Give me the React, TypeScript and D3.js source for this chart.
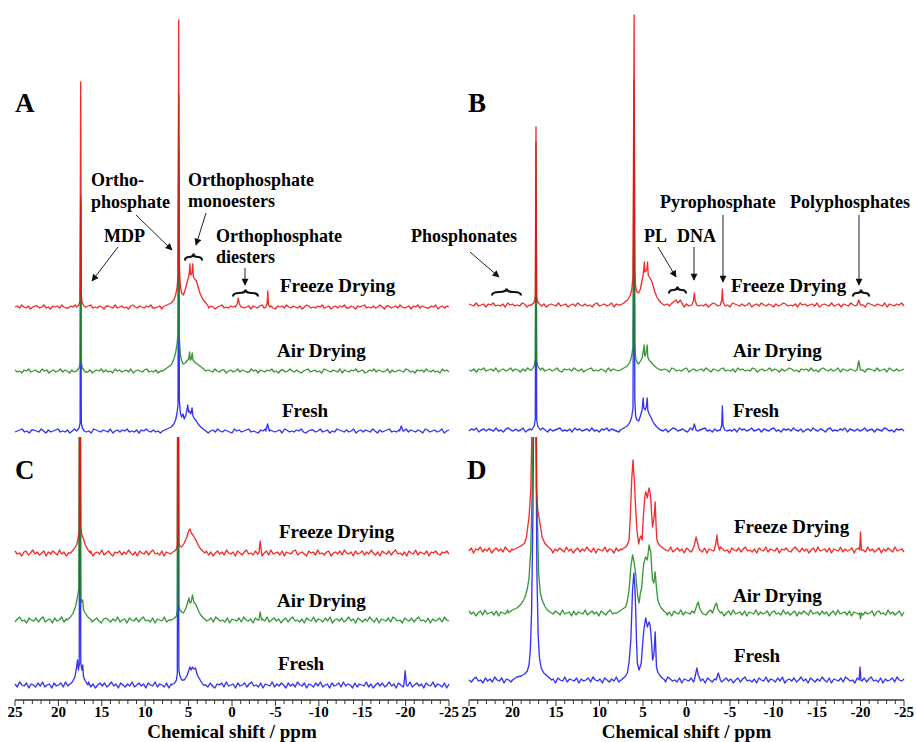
import React from "react";
import * as d3 from "d3";

type Pt = [number, number];

const W = 916;
const H = 742;

const SAMPLES = ["Freeze Drying", "Air Drying", "Fresh"];
const COLORS = ["#f01010", "#1c8a1c", "#1818f0"];
const MAJOR_TICKS = [25, 20, 15, 10, 5, 0, -5, -10, -15, -20, -25];
const PPM_RANGE = [25, -25];

// baseline noise, evenly sampled from 25 to -25 ppm
const noiseFreezeA = [0,1,-1,2,0,-1,1,-2,0,1,1,-1,0,2,-1,0,-2,1,0,1,-1,2,0,-1,-1,1,0,2,-2,0,1,-1,0,1,2,-1,0,-1,1,0,-2,1,1,0,-1,2,-1,0,1,-1,0,-2,1,2,0,-1,1,0,-1,1,0,2,-1,-1,0,1,-2,1,0,1,-1,0,2,0,-1,1,-1,0,-2,1,1,-1,0,2,-1,0,1,-1,1,0,-2,0,1,2,-1,0,-1,1,0,1,-1,2,0,-1,0,1,-2,1,0,-1,1,2,-1,0,0,1,-1,-2,1,0,1,-1,2,0,-1,1,0,-1,1,-2,0,2,1,-1,0,-1,1,0,2,-1,0,1,-2,0,1,-1,1,0,2,-1,-1,1,0,-2,1,0,1,2,-1,0,-1,1,-1,0,2,0,-2,1,1,-1,0,1,-1,2,0,-1,0,1,-2,1,0,2,-1,1,0,-1,-1,1,0,2,-2,0,1,-1,1,0];
const noiseAirA = [1,-1,0,-2,1,0,2,-1,0,1,-1,-1,2,0,1,-2,0,1,-1,0,2,-1,1,0,-2,1,-1,0,1,2,0,-1,-1,1,-2,0,1,0,2,-1,1,-1,0,-2,2,0,1,-1,0,1,-1,2,-2,0,1,0,-1,1,2,-1,0,-1,1,-2,0,2,1,-1,0,1,0,-1,2,-1,-2,1,0,1,-1,0,2,0,-1,1,-2,1,0,-1,2,0,-1,1,1,-2,0,1,-1,0,2,-1,1,0,-1,-1,2,0,1,-2,1,0,-1,1,0,2,-1,0,-2,1,1,-1,0,2,0,-1,1,-1,-2,0,1,2,-1,0,1,-1,0,-2,2,1,0,-1,1,0,-1,2,-2,1,0,-1,1,0,2,-1,0,1,-2,-1,1,0,2,-1,1,0,-1,0,2,-2,1,-1,0,1,0,-1,2,1,-1,0,-2,1,0,1,-1,2,0,-1,1,-1,0,-2,2,0,1,-1];
const noiseFreshA = [-1,0,1,2,-1,0,-2,1,1,0,-1,2,0,-2,1,-1,0,1,2,-1,0,-1,1,-2,0,2,1,-1,0,1,-1,0,-2,2,1,0,-1,1,0,-1,2,-2,0,1,-1,1,0,2,-1,0,-1,1,-2,1,0,2,0,-1,1,-1,0,-2,2,1,-1,0,1,0,-1,2,-1,0,-2,1,1,0,-1,2,-1,0,1,-2,0,1,-1,2,0,-1,1,0,-1,-2,2,0,1,-1,0,1,2,-1,0,-1,-2,1,0,2,-1,1,0,-1,0,1,-2,2,1,-1,0,-1,1,0,2,-1,-2,0,1,1,-1,0,2,-1,0,1,-2,0,-1,2,1,0,-1,1,-1,0,2,-2,0,1,-1,1,0,-1,2,0,-2,1,-1,0,1,2,-1,0,-1,1,-2,0,2,-1,1,0,-1,1,0,-2,2,1,-1,0,1,-1,0,2,-2,0,1];
const noiseFreezeB = [1,0,-1,2,-1,0,1,-2,1,0,2,-1,0,-1,1,-2,2,0,1,-1,0,-1,2,1,-2,0,1,-1,0,2,-1,1,-2,0,1,0,-1,2,-1,0,1,-2,0,1,-1,2,0,-1,1,-1,0,-2,1,2,-1,0,1,-1,0,2,-2,1,0,-1,1,0,2,-1,-1,0,1,-2,1,2,0,-1,0,1,-1,2,-2,0,1,-1,1,0,-1,2,0,-2,1,-1,0,1,2,-1,0,-1,1,-2,0,2,1,-1,0,1,-1,0,-2,2,1,0,-1,1,-1,0,2,-2,0,1,-1,2,0,-1,1,0,-2,1,-1,0,2,1,-1,0,-1,1,-2,2,0,1,-1,0,1,-1,2,-2,0,1,0,-1,2,-1,0,1,-2,1,0,-1,2,0,-1,1,-1,0,-2,2,1,0,-1,1,0,-1,2,-2,1,0,-1,1,0,2,-1];
const noiseAirB = [0,-1,1,-2,1,0,2,-1,0,1,-1,2,-2,0,1,-1,0,2,-1,1,0,-2,1,-1,2,0,-1,1,0,-2,2,-1,0,1,-1,0,2,-1,-2,1,0,1,-1,2,0,-1,1,-2,0,1,2,-1,0,-1,1,0,-2,2,-1,1,0,-1,2,0,-2,1,1,-1,0,2,-1,0,1,-2,0,1,-1,2,-1,0,1,0,-2,2,1,-1,0,-1,1,2,-2,0,1,-1,0,1,-1,2,0,-2,1,0,-1,1,2,-1,0,-1,1,-2,2,0,1,-1,0,-1,2,1,-2,0,1,-1,0,2,-1,1,0,-2,1,-1,0,2,1,-1,0,-2,1,0,1,-1,2,-1,0,-2,1,2,0,-1,1,-1,0,2,-2,1,0,-1,1,0,-1,2,-1,0,-2,1,1,0,-1,2,-1,0,1,-2,2,0,-1,1,-1,0,1];
const noiseFreshB = [-1,1,0,2,-2,0,1,-1,1,0,-1,2,-1,0,-2,1,2,0,-1,1,-1,0,2,-2,0,1,-1,1,0,-1,2,0,-2,1,-1,0,1,2,-1,0,-1,1,-2,2,0,1,-1,0,1,-1,2,-1,0,-2,1,0,2,-1,1,0,-1,-2,2,1,0,-1,1,0,-1,2,-2,0,1,-1,1,0,2,-1,0,-1,1,-2,0,2,1,-1,0,1,-1,-2,2,0,1,-1,0,1,2,-1,0,-2,1,-1,0,1,2,-1,0,-1,1,-2,2,0,1,-1,0,2,-1,0,1,-2,1,0,-1,1,2,-1,0,-2,1,0,1,-1,2,0,-1,1,-2,0,1,-1,2,0,-1,1,0,-2,1,2,-1,0,-1,1,0,2,-2,1,0,-1,1,-1,0,2,-1,0,1,-2,1,0,-1,2,1,-1,0,-2,1,0,1,-1];
const noiseFreezeC = [2,-1,0,-3,1,2,-2,0,3,-1,1,-2,0,2,-3,1,-1,2,0,-2,3,-1,1,-3,0,2,-1,1,-2,3,0,-2,1,-1,2,-3,0,1,-1,3,-2,0,2,-1,-3,1,0,2,-2,1,-1,3,0,-2,1,-3,2,0,-1,2,-2,1,3,-1,0,-2,2,-3,1,0,-1,3,-2,1,0,-1,2,-3,1,2,-2,0,-1,3,-1,0,2,-2,1,-3,0,2,-1,1,-2,3,0,-1,1,-3,2,0,-2,1,3,-1,0,-2,2,-1,1,-3,0,2,-2,3,-1,0,1,-2,2,-3,1,0,-1,2,3,-2,0,1,-1,-3,2,0,1,-2,3,-1,0,-2,1,2,-3,0,1,-1,2,-2,3,0,-1,1,-3,2,-1,0,2,-2,1,-1,3,0,-2,1,-3,2,0,-1,2,-2,1,3,-1,0,-2,1,-3,2,0,-1,3,-2,1,0,-1,2,-3,1,0,2,-1,-2,1,0,2,-1];
const noiseAirC = [-2,1,3,-1,0,-3,2,0,-1,2,-2,1,3,-2,0,1,-3,2,-1,0,3,-2,1,-1,0,2,-3,1,0,-2,3,-1,1,-2,0,2,-1,-3,1,2,0,-2,1,-1,3,-2,0,1,-3,2,0,-1,2,-2,1,3,-1,0,-2,2,-3,1,0,-1,3,-2,0,2,-1,1,-3,0,2,-2,1,-1,3,0,-2,1,-3,2,-1,0,2,-2,3,1,-1,0,-2,2,-3,1,0,-1,2,-2,3,0,-1,1,-3,2,0,-2,1,-1,3,-2,0,2,-1,1,-3,0,2,-2,1,3,-1,0,-2,1,-3,2,0,-1,3,-2,1,0,-2,2,-1,3,-3,0,1,-1,2,-2,0,3,-1,1,-3,2,0,-2,1,-1,3,0,-2,2,-3,1,0,-1,2,-2,3,1,-1,0,-3,2,0,-1,2,-2,1,3,-1,0,-2,2,-3,1,-1,0,2,-2,3,0,-1];
const noiseFreshC = [1,-2,3,0,-1,2,-3,1,0,-2,2,-1,3,-2,0,1,-3,2,-1,0,2,-2,3,-1,1,0,-3,2,-2,1,0,-1,3,-2,1,-3,0,2,-1,2,-2,0,3,-1,1,-3,2,0,-2,1,-1,3,-2,0,2,-1,1,-3,2,0,-1,3,-2,1,0,-2,2,-3,1,-1,0,3,-2,1,-1,2,-3,0,2,-2,1,-1,3,0,-2,2,-1,-3,1,0,2,-2,3,-1,0,1,-3,2,-1,0,2,-2,1,3,-1,0,-2,2,-3,1,0,-1,3,-2,1,-1,2,0,-3,2,-1,1,-2,3,0,-1,2,-3,1,0,-2,2,-1,3,-2,0,1,-3,2,-1,0,2,-2,3,-1,1,0,-3,2,-2,1,0,-1,3,-2,1,-3,0,2,-1,2,-2,0,3,-1,1,-3,2,0,-2,1,-1,3,-2,0,2,-1,1,-3,2,0,-1,3,-2,1,0,-2,2,-3,1];
const noiseFreezeD = [-1,2,-3,1,0,3,-2,1,-1,2,-3,0,2,-1,1,-2,3,0,-2,1,-3,2,-1,0,3,-2,1,-1,2,-3,0,1,-2,3,-1,0,2,-3,1,-1,2,0,-2,3,-1,1,-3,0,2,-2,1,-1,3,0,-2,2,-3,1,0,-1,3,-2,1,0,-3,2,-1,1,-2,3,0,-1,2,-3,1,-1,0,2,-2,3,-1,0,1,-3,2,-2,1,0,-1,3,-2,0,2,-1,1,-3,2,0,-2,1,3,-1,0,-2,2,-3,1,0,-1,2,-2,3,1,-1,0,-3,2,0,-1,2,-2,1,3,-1,0,-2,1,-3,2,0,-1,3,-2,1,0,-1,2,-3,1,0,2,-1,-2,1,3,0,-2,2,-1,1,-3,0,2,-2,3,-1,0,1,-2,2,-3,1,0,-1,3,-2,1,-1,0,2,-3,1,2,-1,0,-2,3,-1,1,-2,0,2,-3,1,-1,2,0,-2,3,-1,0,1,-2];
const noiseAirD = [2,-1,1,-3,0,2,-2,3,-1,0,1,-2,2,-3,1,0,-1,3,-2,1,-1,0,2,-3,1,2,-1,0,-2,3,-1,1,-2,0,2,-3,1,-1,2,0,-2,3,-1,0,1,-3,2,-2,1,0,-1,3,-2,0,2,-1,1,-3,2,0,-2,1,3,-1,0,-2,2,-3,1,0,-1,2,-2,3,1,-1,0,-3,2,0,-1,2,-2,1,3,-1,0,-2,1,-3,2,0,-1,3,-2,1,0,-1,2,-3,1,0,2,-1,-2,1,3,0,-2,2,-1,1,-3,0,2,-2,3,-1,0,1,-2,2,-3,1,0,-1,3,-2,1,-1,0,2,-3,1,2,-1,0,-2,3,-1,1,-2,0,2,-3,1,-1,2,0,-2,3,-1,0,1,-2,2,-1,1,-3,0,2,-2,3,-1,0,1,-2,2,-3,1,0,-1,3,-2,1,-1,0,2,-3,1,2,-1,0,-2,3,-1,1,-2,0,2,-3,1];
const noiseFreshD = [0,-2,1,3,-1,0,-3,2,-1,1,-2,3,0,-1,2,-3,1,0,-2,2,-1,3,-2,0,1,-3,2,-1,0,2,-2,1,3,-1,0,-2,1,-3,2,0,-1,3,-2,1,0,-1,2,-3,1,-1,0,2,-2,3,0,-1,1,-3,2,0,-2,1,-1,3,-2,0,2,-1,1,-3,0,2,-2,1,-1,3,0,-2,1,-3,2,-1,0,2,-2,3,1,-1,0,-2,2,-3,1,0,-1,2,-2,3,0,-1,1,-3,2,0,-2,1,-1,3,-2,0,2,-1,1,-3,0,2,-2,1,3,-1,0,-2,1,-3,2,0,-1,3,-2,1,0,-2,2,-1,3,-3,0,1,-1,2,-2,0,3,-1,1,-3,2,0,-2,1,-1,3,0,-2,2,-3,1,0,-1,2,-2,3,1,-1,0,-3,2,0,-1,2,-2,1,3,-1,0,-2,2,-3,1,-1,0,2,-2,3,0,-1,1];

// peaks: [ppm, intensity above own baseline]
const peaksFreezeA: Pt[][] = [
  [[17.9,0],[17.65,2],[17.52,6],[17.43,225],[17.36,10],[17.25,4],[17.05,1],[16.9,0]],
  [[8,0],[7.5,2],[7,4],[6.7,7],[6.5,12],[6.35,18],[6.22,30],[6.14,287],[6.06,40],[5.95,20],[5.8,14],[5.6,12],[5.4,17],[5.2,24],[5,30],[4.9,36],[4.85,43],[4.78,32],[4.7,33],[4.6,34],[4.52,43],[4.45,30],[4.3,28],[4.1,26],[3.9,20],[3.7,14],[3.5,10],[3.3,7],[3,4],[2.7,0]],
  [[-0.4,0],[-0.6,3],[-0.72,9],[-0.85,3],[-1.05,0]],
  [[-3.9,0],[-4.05,4],[-4.12,16],[-4.2,2],[-4.4,0]],
];
const peaksAirA: Pt[][] = [
  [[17.9,0],[17.62,3],[17.5,9],[17.43,175],[17.36,9],[17.25,3],[17,0]],
  [[8,0],[7.5,3],[7,6],[6.7,12],[6.5,18],[6.35,26],[6.22,36],[6.14,276],[6.06,32],[5.95,16],[5.8,10],[5.6,7],[5.4,8],[5.2,10],[5,12],[4.88,19],[4.82,11],[4.7,12],[4.58,18],[4.5,11],[4.3,9],[4,7],[3.7,5],[3.4,3],[3,0]],
];
const peaksFreshA: Pt[][] = [
  [[17.9,0],[17.62,3],[17.5,8],[17.43,229],[17.36,8],[17.25,3],[17,0]],
  [[8,0],[7.5,2],[7,4],[6.7,7],[6.5,11],[6.35,17],[6.22,26],[6.14,281],[6.06,30],[5.95,18],[5.8,14],[5.65,17],[5.5,12],[5.3,16],[5.1,26],[5,19],[4.9,20],[4.75,17],[4.6,23],[4.5,15],[4.3,12],[4.1,10],[3.9,7],[3.6,4],[3.3,2],[3,0]],
  [[-3.9,0],[-4.1,7],[-4.3,0]],
  [[-19.3,0],[-19.5,5],[-19.7,0]],
];
const peaksFreezeB: Pt[][] = [
  [[17.8,0],[17.5,3],[17.38,9],[17.3,178],[17.22,8],[17.1,3],[16.8,0]],
  [[7.6,0],[7.2,2],[6.8,5],[6.5,9],[6.3,15],[6.15,28],[6.02,290],[5.94,35],[5.85,18],[5.7,13],[5.5,12],[5.3,16],[5.1,25],[4.95,32],[4.85,43],[4.78,33],[4.65,34],[4.55,36],[4.48,43],[4.4,30],[4.2,27],[4,24],[3.8,18],[3.6,12],[3.4,8],[3.2,5],[2.9,2],[2.6,0]],
  [[1.9,0],[1.5,3],[1.2,5],[1,2],[0.7,5],[0.4,0]],
  [[-0.6,0],[-0.8,4],[-0.9,12],[-1,4],[-1.2,0]],
  [[-3.9,0],[-4.05,5],[-4.12,16],[-4.2,3],[-4.4,0]],
  [[-19.6,0],[-19.8,5],[-20,0]],
];
const peaksAirB: Pt[][] = [
  [[17.8,0],[17.5,4],[17.38,11],[17.3,228],[17.22,10],[17.1,4],[16.8,0]],
  [[7.6,0],[7.2,2],[6.8,4],[6.5,8],[6.3,14],[6.15,24],[6.02,290],[5.94,28],[5.85,12],[5.7,8],[5.5,6],[5.3,9],[5.1,12],[4.95,20],[4.88,25],[4.8,14],[4.7,15],[4.6,20],[4.52,25],[4.45,13],[4.3,10],[4,7],[3.7,4],[3.4,2],[3,0]],
  [[-19.6,0],[-19.8,9],[-20,0]],
];
const peaksFreshB: Pt[][] = [
  [[17.8,0],[17.5,4],[17.38,11],[17.3,230],[17.22,10],[17.1,4],[16.8,0]],
  [[7.6,0],[7.2,2],[6.8,4],[6.5,8],[6.3,13],[6.15,22],[6.02,290],[5.94,30],[5.85,14],[5.7,10],[5.5,9],[5.3,14],[5.1,20],[4.98,32],[4.9,22],[4.75,20],[4.6,24],[4.52,32],[4.45,20],[4.3,16],[4.1,13],[3.9,9],[3.7,6],[3.4,3],[3,0]],
  [[-0.7,0],[-0.9,6],[-1.1,0]],
  [[-3.9,0],[-4.05,5],[-4.12,24],[-4.2,4],[-4.4,0]],
];
const peaksFreezeC: Pt[][] = [
  [[18.6,0],[18.2,4],[17.9,8],[17.7,16],[17.6,22],[17.52,400],[17.42,26],[17.3,18],[17.1,14],[16.9,8],[16.6,3],[16.3,0]],
  [[7,0],[6.6,2],[6.4,4],[6.3,8],[6.22,400],[6.12,10],[6,7],[5.8,6],[5.5,10],[5.2,16],[5,22],[4.85,24],[4.7,20],[4.5,18],[4.3,15],[4.1,12],[3.9,8],[3.7,5],[3.4,2],[3.1,0]],
  [[-3.1,0],[-3.25,12],[-3.4,0]],
];
const peaksAirC: Pt[][] = [
  [[19,0],[18.6,3],[18.3,7],[18,14],[17.8,23],[17.65,32],[17.52,400],[17.42,22],[17.3,18],[17.2,20],[17.1,10],[16.9,7],[16.6,3],[16.2,0]],
  [[7,0],[6.6,2],[6.4,4],[6.3,10],[6.22,400],[6.12,14],[6,10],[5.8,8],[5.6,7],[5.3,12],[5.1,18],[4.95,22],[4.85,17],[4.7,18],[4.55,25],[4.4,18],[4.2,16],[4,12],[3.8,8],[3.6,5],[3.3,2],[3,0]],
  [[-3.1,0],[-3.25,8],[-3.4,0]],
];
const peaksFreshC: Pt[][] = [
  [[18.8,0],[18.4,3],[18.1,8],[17.9,18],[17.8,25],[17.7,15],[17.6,20],[17.52,400],[17.42,22],[17.3,15],[17.2,20],[17.1,8],[16.9,4],[16.6,0]],
  [[7,0],[6.6,2],[6.4,5],[6.3,12],[6.22,400],[6.12,15],[6,9],[5.8,5],[5.5,5],[5.2,9],[5,14],[4.85,18],[4.7,15],[4.55,18],[4.4,16],[4.2,17],[4,10],[3.8,7],[3.6,4],[3.3,0]],
  [[-19.8,0],[-19.95,14],[-20.1,0]],
];
const peaksFreezeD: Pt[][] = [
  [[20,0],[19.5,2],[19,4],[18.6,7],[18.4,13],[18.1,33],[17.9,60],[17.7,150],[17.5,300],[17.35,300],[17.25,60],[17.1,40],[16.9,30],[16.6,13],[16.3,7],[16,4],[15.5,0]],
  [[7.5,0],[7,3],[6.8,5],[6.6,10],[6.45,35],[6.3,70],[6.15,90],[6,70],[5.85,43],[5.7,20],[5.6,13],[5.5,6],[5.35,12],[5.25,14],[5.1,10],[4.95,35],[4.8,52],[4.7,58],[4.6,56],[4.5,52],[4.4,58],[4.3,62],[4.2,58],[4.1,50],[4,35],[3.9,23],[3.8,28],[3.7,35],[3.6,48],[3.5,25],[3.4,10],[3.2,6],[3,4],[2.7,2],[2.4,0]],
  [[-0.7,0],[-0.9,5],[-1.1,13],[-1.3,6],[-1.5,0]],
  [[-3.2,0],[-3.4,8],[-3.5,15],[-3.6,6],[-3.8,0]],
  [[-19.9,0],[-20,18],[-20.1,0]],
];
const peaksAirD: Pt[][] = [
  [[20.5,0],[20,3],[19.5,5],[19,9],[18.6,15],[18.3,24],[18.1,35],[17.9,63],[17.7,140],[17.5,300],[17.35,300],[17.2,120],[17,40],[16.8,20],[16.6,13],[16.3,7],[16,3],[15.5,0]],
  [[8,0],[7.5,3],[7,6],[6.8,12],[6.6,23],[6.4,46],[6.2,58],[6.05,52],[5.85,40],[5.7,25],[5.6,16],[5.45,10],[5.3,20],[5.15,25],[5,42],[4.9,50],[4.7,56],[4.5,53],[4.3,68],[4.2,64],[4.1,61],[4,45],[3.9,33],[3.75,30],[3.6,41],[3.45,25],[3.3,13],[3.1,8],[2.9,5],[2.6,2],[2.3,0]],
  [[-0.9,0],[-1.2,8],[-1.35,11],[-1.5,5],[-1.8,0]],
  [[-3,0],[-3.3,8],[-3.45,10],[-3.6,4],[-3.9,0]],
  [[-19.9,0],[-20,-6],[-20.1,0]],
];
const peaksFreshD: Pt[][] = [
  [[20,0],[19.5,3],[19,4],[18.6,6],[18.3,9],[18.1,15],[17.95,30],[17.8,70],[17.65,170],[17.5,330],[17.35,330],[17.2,110],[17.05,45],[16.9,22],[16.7,12],[16.4,7],[16,4],[15.5,0]],
  [[7.5,0],[7,4],[6.8,7],[6.6,18],[6.4,40],[6.2,90],[6.05,107],[5.95,95],[5.85,73],[5.75,40],[5.65,17],[5.45,10],[5.3,14],[5.2,17],[5.05,35],[4.9,50],[4.7,62],[4.6,58],[4.5,53],[4.4,56],[4.3,58],[4.2,55],[4.1,48],[4,35],[3.9,20],[3.75,25],[3.6,48],[3.5,25],[3.45,13],[3.3,8],[3.1,5],[2.8,2],[2.5,0]],
  [[-0.9,0],[-1.1,8],[-1.2,12],[-1.35,5],[-1.6,0]],
  [[-3.4,0],[-3.65,7],[-3.9,0]],
  [[-19.85,0],[-19.95,13],[-20.05,0]],
];

const panels = [
  { id: "A", x0: 15, x1: 449, base: 431, clipTop: 0, offsets: [124, 60, 0],
    noise: [noiseFreezeA, noiseAirA, noiseFreshA], peaks: [peaksFreezeA, peaksAirA, peaksFreshA],
    letter: [15, 112], labels: [[280, 292], [277, 357], [282, 417]], axis: false },
  { id: "B", x0: 469, x1: 904, base: 430, clipTop: 0, offsets: [125, 60, 0],
    noise: [noiseFreezeB, noiseAirB, noiseFreshB], peaks: [peaksFreezeB, peaksAirB, peaksFreshB],
    letter: [468, 112], labels: [[731, 292], [733, 357], [733, 417]], axis: false },
  { id: "C", x0: 15, x1: 449, base: 685, clipTop: 437, offsets: [132, 65, 0],
    noise: [noiseFreezeC, noiseAirC, noiseFreshC], peaks: [peaksFreezeC, peaksAirC, peaksFreshC],
    letter: [15, 479], labels: [[279, 538], [277, 607], [278, 670]], axis: true },
  { id: "D", x0: 469, x1: 904, base: 680, clipTop: 437, offsets: [130, 67, 0],
    noise: [noiseFreezeD, noiseAirD, noiseFreshD], peaks: [peaksFreezeD, peaksAirD, peaksFreshD],
    letter: [467, 479], labels: [[734, 533], [733, 602], [734, 662]], axis: true },
];

function buildSeries(noise: number[], peaks: Pt[][]): Pt[] {
  const step = (PPM_RANGE[0] - PPM_RANGE[1]) / (noise.length - 1);
  let pts: Pt[] = noise.map((v, i) => [PPM_RANGE[0] - i * step, v] as Pt);
  peaks.forEach((seg) => {
    const hi = d3.max(seg, (d) => d[0]) as number;
    const lo = d3.min(seg, (d) => d[0]) as number;
    pts = pts.filter((p) => p[0] > hi || p[0] < lo).concat(seg);
  });
  return pts.sort((a, b) => b[0] - a[0]);
}

function brace(x1: number, x2: number, y: number, h = 3.5) {
  const m = (x1 + x2) / 2;
  return `M${x1},${y + h} Q${x1},${y} ${(x1 + m) / 2},${y} Q${m},${y} ${m},${y - h} Q${m},${y} ${(m + x2) / 2},${y} Q${x2},${y} ${x2},${y + h}`;
}

const FONT = "Liberation Serif, Times New Roman, DejaVu Serif, serif";

const annotations = [
  { t: "Ortho-", x: 91, y: 186 }, { t: "phosphate", x: 91, y: 208 },
  { t: "Orthophosphate", x: 188, y: 186 }, { t: "monoesters", x: 188, y: 207 },
  { t: "MDP", x: 104, y: 242 },
  { t: "Orthophosphate", x: 216, y: 242 }, { t: "diesters", x: 216, y: 263 },
  { t: "Phosphonates", x: 411, y: 242 },
  { t: "PL", x: 644, y: 242 }, { t: "DNA", x: 677, y: 242 },
  { t: "Pyrophosphate", x: 660, y: 208 }, { t: "Polyphosphates", x: 790, y: 208 },
];
const arrows = [
  [118, 247, 92, 281], [136, 215, 172, 250], [206, 213, 196, 245], [245, 268, 245, 285],
  [470, 252, 499, 277], [658, 247, 676, 277], [694, 247, 694, 280], [723, 215, 723, 282], [859, 215, 859, 285],
];
const braces = [[185, 202, 257], [233, 258, 293], [492, 521, 292], [669, 686, 290], [853, 869, 293]];

export default function App() {
  return (
    <svg width={W} height={H} style={{ position: "absolute", left: 0, top: 0, background: "#fff" }}>
      <defs>
        <marker id="ah" viewBox="0 0 10 10" refX="9" refY="5" markerWidth="9" markerHeight="7"
          markerUnits="userSpaceOnUse" orient="auto">
          <path d="M0,0 L10,5 L0,10 z" fill="#111" />
        </marker>
        {panels.map((p) => (
          <clipPath key={p.id} id={`clip${p.id}`}>
            <rect x={p.x0 - 5} y={p.clipTop} width={p.x1 - p.x0 + 10} height={H - p.clipTop} />
          </clipPath>
        ))}
      </defs>
      {panels.map((p) => {
        const x = d3.scaleLinear().domain(PPM_RANGE).range([p.x0, p.x1]);
        const y = d3.scaleLinear().domain([0, 100]).range([p.base, p.base - 100]);
        const minor = x.ticks(50);
        return (
          <g key={p.id}>
            <g clipPath={`url(#clip${p.id})`}>
              {[2, 1, 0].map((k) => {
                const series = buildSeries(p.noise[k], p.peaks[k]);
                const line = d3.line<Pt>().x((d) => x(d[0])).y((d) => y(d[1] + p.offsets[k]));
                return (
                  <path key={k} d={line(series) || ""} fill="none" stroke={COLORS[k]}
                    strokeWidth={1.35} strokeOpacity={0.88} strokeLinejoin="round" />
                );
              })}
            </g>
            <text x={p.letter[0]} y={p.letter[1]} fontFamily={FONT} fontWeight="bold" fontSize={27}>{p.id}</text>
            {SAMPLES.map((s, k) => (
              <text key={s} x={p.labels[k][0]} y={p.labels[k][1]} fontFamily={FONT} fontWeight="bold" fontSize={19}>{s}</text>
            ))}
            {p.axis && (
              <g>
                <line x1={p.x0} x2={p.x1} y1={700} y2={700} stroke="#333" strokeWidth={1.4} />
                {minor.map((t) => (
                  <line key={t} x1={x(t)} x2={x(t)} y1={700} y2={MAJOR_TICKS.includes(t) ? 706 : 704}
                    stroke="#333" strokeWidth={1} />
                ))}
                {MAJOR_TICKS.map((t) => (
                  <text key={t} x={x(t)} y={717} textAnchor="middle" fontFamily={FONT}
                    fontWeight="bold" fontSize={15}>{t}</text>
                ))}
                <text x={(p.x0 + p.x1) / 2} y={737.5} textAnchor="middle" fontFamily={FONT}
                  fontWeight="bold" fontSize={19}>Chemical shift / ppm</text>
              </g>
            )}
          </g>
        );
      })}
      {annotations.map((a, i) => (
        <text key={i} x={a.x} y={a.y} fontFamily={FONT} fontWeight="bold" fontSize={18}>{a.t}</text>
      ))}
      {arrows.map((a, i) => (
        <line key={i} x1={a[0]} y1={a[1]} x2={a[2]} y2={a[3]} stroke="#222" strokeWidth={1} markerEnd="url(#ah)" />
      ))}
      {braces.map((b, i) => (
        <path key={i} d={brace(b[0], b[1], b[2])} fill="none" stroke="#111" strokeWidth={2.2} />
      ))}
    </svg>
  );
}
